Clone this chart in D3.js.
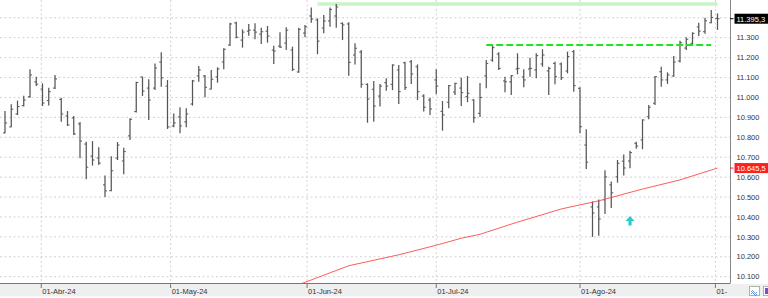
<!DOCTYPE html>
<html>
<head>
<meta charset="utf-8">
<script src="https://cdn.jsdelivr.net/npm/d3@7"></script>
<style>
  html, body { margin: 0; padding: 0; background: #fff; }
  svg { display: block; font-family: 'Liberation Sans', Arial, sans-serif; }
</style>
</head>
<body>
<div id="chart"></div>
<script>
// trading calendar
const firstDay = '2024-03-21';
const lastDay = '2024-09-02';
const holidays = ['2024-03-29', '2024-04-01', '2024-05-01'];

// daily OHLC, one value per trading day
const openV = [10822,10852,10917,10959,11004,11078,11042,10984,11047,10990,
  10907,10897,10867,10766,10706,10696,10561,10532,10696,10681,
  10807,10929,11103,11047,11047,11178,11057,10857,10902,10877,
  10967,11108,11108,11042,11103,11178,11263,11374,11288,11333,
  11338,11318,11333,11238,11258,11273,11238,11128,11323,11409,
  11389,11349,11384,11409,11372,11369,11213,11228,11066,11041,
  11007,11074,11066,11138,11174,11179,11154,11007,10987,11088,
  10930,10976,11027,11047,11004,10987,10920,11108,11188,11218,
  11083,11078,11143,11103,11143,11138,11168,11133,11171,11168,
  11133,11230,11046,10761,10450,10450,10486,10561,10601,10680,
  10681,10770,10787,10903,10971,11129,11088,11108,11183,11248,
  11272,11354,11330,11375,11397];
const highV = [10932,10966,10984,11009,11141,11104,11071,11049,11113,10999,
  10932,10907,10877,10778,10781,10750,10608,10705,10776,10748,
  10895,11079,11104,11091,11171,11227,11088,10920,10951,10946,
  11088,11158,11113,11138,11151,11247,11375,11380,11342,11369,
  11372,11350,11359,11260,11327,11352,11255,11350,11364,11452,
  11397,11414,11452,11469,11377,11377,11272,11238,11071,11083,
  11068,11096,11166,11163,11179,11188,11166,11016,10999,11141,
  10982,11062,11074,11099,11108,10991,11072,11188,11263,11227,
  11104,11113,11222,11141,11199,11222,11242,11154,11179,11176,
  11230,11238,11051,10840,10478,10487,10634,10578,10686,10714,
  10733,10778,10890,10962,11108,11154,11126,11208,11285,11302,
  11327,11375,11400,11439,11422];
const lowV = [10820,10850,10912,10954,10999,11057,10957,10959,11042,10878,
  10857,10812,10695,10589,10658,10661,10500,10529,10686,10614,
  10786,10925,11007,10887,11037,11054,10842,10850,10820,10850,
  10959,11079,11001,11041,11074,11141,11258,11297,11250,11310,
  11292,11268,11275,11168,11248,11238,11133,11124,11302,11375,
  11217,11322,11355,11350,11288,11109,11166,11049,10873,10878,
  10954,11034,11037,10967,11037,11068,10987,10929,10912,11016,
  10833,10946,11012,10957,10976,10873,10902,11046,11179,11138,
  11026,11012,11116,11051,11104,11096,11154,11012,11066,11088,
  11121,11029,10820,10641,10300,10306,10415,10445,10572,10608,
  10645,10743,10740,10890,10962,11054,11068,11104,11176,11238,
  11267,11308,11320,11372,11339];
const closeV = [10872,10941,10954,10987,11113,11067,10972,11029,11093,10917,
  10862,10817,10781,10650,10686,10671,10531,10632,10761,10728,
  10890,11075,11032,10987,11148,11098,10852,10872,10857,10917,
  11083,11138,11051,11091,11143,11242,11369,11302,11328,11338,
  11328,11330,11308,11233,11253,11338,11141,11342,11355,11394,
  11283,11384,11442,11454,11364,11176,11247,11066,10992,10957,
  11057,11057,11163,11029,11049,11118,11029,10951,10942,11057,
  10912,11059,11071,11024,11021,10898,11000,11171,11250,11146,
  11079,11109,11146,11088,11146,11210,11213,11146,11104,11099,
  11205,11059,10853,10675,10420,10390,10601,10521,10670,10646,
  10723,10756,10887,10951,11104,11088,11113,11178,11275,11292,
  11322,11333,11385,11402,11395.3];

// red moving average, read at these bars
const maIndex = [47, 55, 63, 69, 73, 76, 82, 89, 95, 102, 108, 114];
const maValue = [10060, 10155, 10210, 10258, 10293, 10313, 10374, 10440, 10481, 10540, 10586, 10645.5];

// horizontal studies
const resistanceTop = { value: 11469, from: 50, to: 114 };
const resistanceDash = { value: 11263, from: 77, to: 113 };

// buy signal
const signalIndex = [100];
const signalValue = [10405];

// axes
const gridLevels = [10100, 10200, 10300, 10400, 10500, 10600, 10700, 10800, 10900, 11000, 11100, 11200, 11300, 11400];
const yTicks = [10100, 10200, 10300, 10400, 10500, 10600, 10700, 10800, 10900, 11000, 11100, 11200, 11300];
const monthStarts = ['2024-04-01', '2024-05-01', '2024-06-01', '2024-07-01', '2024-08-01', '2024-09-01'];
const monthLabels = ['01-Abr-24', '01-May-24', '01-Jun-24', '01-Jul-24', '01-Ago-24', '01-'];

const W = 768, H = 298;
const plotRight = 730, plotBottom = 283.5;

const parse = d3.utcParse('%Y-%m-%d');
const fmt = d3.utcFormat('%Y-%m-%d');
const tradingDays = d3.utcDay.range(parse(firstDay), d3.utcDay.offset(parse(lastDay), 1))
  .filter(d => d.getUTCDay() !== 0 && d.getUTCDay() !== 6 && !holidays.includes(fmt(d)));

const bars = tradingDays.map((d, i) => ({
  i, date: d, o: openV[i], h: highV[i], l: lowV[i], c: closeV[i]
}));

const es = d3.formatLocale({ decimal: ',', thousands: '.', grouping: [3], currency: ['', '€'] });
const fmtTick = es.format(',.0f');
const fmtPrice = es.format(',.1f');

const x = d3.scaleLinear().domain([0, bars.length - 1]).range([5, 717.5]);
const y = d3.scaleLinear().domain([10100, 11300]).range([276.7, 37.7]);

// calendar date -> fractional bar index (month ticks can fall on non-trading days)
function dateIndex(s) {
  const d = parse(s);
  const b = tradingDays.findIndex(t => t >= d);
  if (b <= 0) return Math.max(b, 0);
  if (+tradingDays[b] === +d) return b;
  const a = b - 1;
  return a + (d - tradingDays[a]) / (tradingDays[b] - tradingDays[a]);
}

const svg = d3.select('#chart').append('svg')
  .attr('width', W)
  .attr('height', H);

svg.append('rect').attr('width', W).attr('height', H).attr('fill', '#fff');

svg.append('defs').append('clipPath').attr('id', 'plotClip')
  .append('rect').attr('x', 0).attr('y', 0).attr('width', plotRight).attr('height', plotBottom);

// grid
const grid = svg.append('g');
grid.selectAll('.hgrid')
  .data(gridLevels)
  .enter()
  .append('line')
  .attr('x1', 0)
  .attr('x2', plotRight)
  .attr('y1', d => y(d))
  .attr('y2', d => y(d))
  .attr('stroke', '#d2d2d2')
  .attr('stroke-dasharray', '2,2.5');

const monthX = monthStarts.map(s => x(dateIndex(s)));
grid.selectAll('.vgrid')
  .data(monthX)
  .enter()
  .append('line')
  .attr('x1', d => d)
  .attr('x2', d => d)
  .attr('y1', 0)
  .attr('y2', plotBottom)
  .attr('stroke', '#d2d2d2')
  .attr('stroke-dasharray', '2,2.5');

const plot = svg.append('g').attr('clip-path', 'url(#plotClip)');

// light green resistance at the top
plot.append('line')
  .attr('x1', x(resistanceTop.from))
  .attr('x2', x(resistanceTop.to))
  .attr('y1', y(resistanceTop.value))
  .attr('y2', y(resistanceTop.value))
  .attr('stroke', '#c8f5c8')
  .attr('stroke-width', 3.6);

// OHLC bars
const bar = plot.selectAll('.ohlc')
  .data(bars)
  .enter()
  .append('g')
  .attr('class', 'ohlc')
  .attr('stroke', '#555');

bar.append('line')
  .attr('x1', d => x(d.i))
  .attr('x2', d => x(d.i))
  .attr('y1', d => y(d.h))
  .attr('y2', d => y(d.l))
  .attr('stroke-width', 1.25);

bar.append('line')
  .attr('x1', d => x(d.i) - 2)
  .attr('x2', d => x(d.i))
  .attr('y1', d => y(d.o))
  .attr('y2', d => y(d.o))
  .attr('stroke-width', 1);

bar.append('line')
  .attr('x1', d => x(d.i))
  .attr('x2', d => x(d.i) + 2)
  .attr('y1', d => y(d.c))
  .attr('y2', d => y(d.c))
  .attr('stroke-width', 1);

// dashed green resistance
plot.append('line')
  .attr('x1', x(resistanceDash.from))
  .attr('x2', x(resistanceDash.to))
  .attr('y1', y(resistanceDash.value))
  .attr('y2', y(resistanceDash.value))
  .attr('stroke', '#22e022')
  .attr('stroke-width', 2)
  .attr('stroke-dasharray', '7,3');

// moving average
const maLine = d3.line()
  .x(d => x(d[0]))
  .y(d => y(d[1]));

plot.append('path')
  .datum(maIndex.map((d, k) => [d, maValue[k]]))
  .attr('d', maLine)
  .attr('fill', 'none')
  .attr('stroke', '#ff4a4a')
  .attr('stroke-width', 0.9);

// signal arrow
plot.selectAll('.signal')
  .data(signalIndex.map((d, k) => [d, signalValue[k]]))
  .enter()
  .append('path')
  .attr('transform', d => `translate(${x(d[0])}, ${y(d[1])})`)
  .attr('d', 'M0,0 L4.5,5 L1.6,5 L1.6,9.5 L-1.6,9.5 L-1.6,5 L-4.5,5 Z')
  .attr('fill', '#2ccaca');

// bottom band + axis
svg.append('rect')
  .attr('x', 0).attr('y', plotBottom + 0.5)
  .attr('width', W).attr('height', 12.5)
  .attr('fill', '#efefef');

svg.append('line')
  .attr('x1', 0).attr('x2', plotRight)
  .attr('y1', plotBottom).attr('y2', plotBottom)
  .attr('stroke', '#777').attr('stroke-width', 1);

svg.append('line')
  .attr('x1', plotRight + 0.5).attr('x2', plotRight + 0.5)
  .attr('y1', 0).attr('y2', plotBottom)
  .attr('stroke', '#888').attr('stroke-width', 1);

const xAxis = svg.append('g');
xAxis.selectAll('.tick')
  .data(monthX)
  .enter()
  .append('line')
  .attr('x1', d => d).attr('x2', d => d)
  .attr('y1', plotBottom).attr('y2', plotBottom + 4.5)
  .attr('stroke', '#777');

xAxis.selectAll('.lbl')
  .data(monthX)
  .enter()
  .append('text')
  .attr('x', d => d + 1)
  .attr('y', 294)
  .attr('font-size', 7.5)
  .attr('fill', '#333')
  .text((d, k) => monthLabels[k]);

// y labels
svg.append('g').selectAll('text')
  .data(yTicks)
  .enter()
  .append('text')
  .attr('x', 736.5)
  .attr('y', d => y(d) + 2.7)
  .attr('font-size', 7.5)
  .attr('fill', '#333')
  .text(d => fmtTick(d));

// price boxes
const priceTags = [
  { value: closeV[closeV.length - 1], fill: '#000' },
  { value: maValue[maValue.length - 1], fill: '#ff1e1e' }
];
const tag = svg.append('g').selectAll('g')
  .data(priceTags)
  .enter()
  .append('g');

tag.append('line')
  .attr('x1', plotRight).attr('x2', plotRight + 3.5)
  .attr('y1', d => y(d.value)).attr('y2', d => y(d.value))
  .attr('stroke', d => d.fill);

tag.append('rect')
  .attr('x', 734.5)
  .attr('y', d => y(d.value) - 5)
  .attr('width', 34)
  .attr('height', 10)
  .attr('fill', d => d.fill);

tag.append('text')
  .attr('x', 736.5)
  .attr('y', d => y(d.value) + 2.8)
  .attr('font-size', 7.5)
  .attr('fill', '#fff')
  .text(d => fmtPrice(d.value));

// little toolbar icons bottom right
svg.append('rect')
  .attr('x', 749.5).attr('y', 286.5).attr('width', 10).attr('height', 9)
  .attr('fill', '#fff').attr('stroke', '#b0b0b0');
svg.append('path')
  .attr('d', 'M751,292 q1.5,-3 3,0 t3,0 M751,294 q1.5,-3 3,0 t3,0')
  .attr('fill', 'none').attr('stroke', '#3a7bd5').attr('stroke-width', 0.8);
svg.append('rect')
  .attr('x', 763.5).attr('y', 286.5).attr('width', 6).attr('height', 9)
  .attr('fill', '#fff').attr('stroke', '#b0b0b0');
svg.append('rect')
  .attr('x', 765).attr('y', 288).attr('width', 3).attr('height', 6)
  .attr('fill', '#7b4fc9');
</script>
</body>
</html>
